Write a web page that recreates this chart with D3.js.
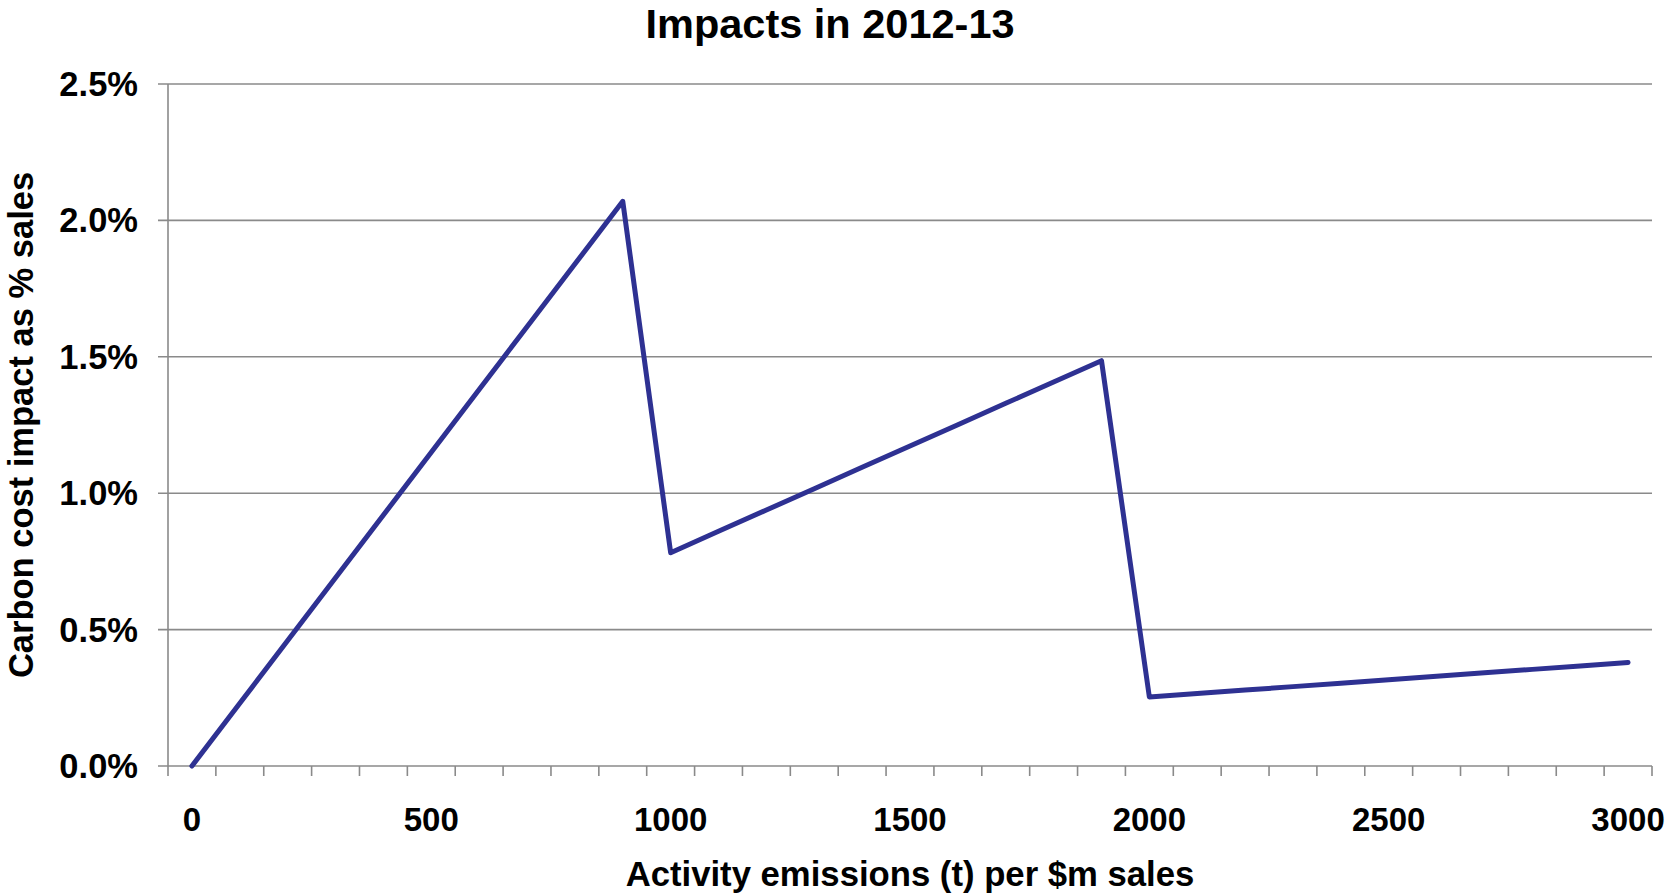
<!DOCTYPE html>
<html>
<head>
<meta charset="utf-8">
<script src="https://cdn.jsdelivr.net/npm/d3@7"></script>
<style>
  html, body { margin: 0; padding: 0; background: #ffffff; }
  svg { display: block; }
  text { font-family: "Liberation Sans", Arial, Helvetica, sans-serif; font-weight: bold; fill: #000; }
</style>
</head>
<body>
<svg id="chart" width="1670" height="895"></svg>
<script>
// Activity emissions (t per $m sales), one category every 100 t
const emissions = [
  0, 100, 200, 300, 400, 500, 600, 700, 800, 900,
  1000, 1100, 1200, 1300, 1400, 1500, 1600, 1700, 1800, 1900,
  2000, 2100, 2200, 2300, 2400, 2500, 2600, 2700, 2800, 2900, 3000
];

// Carbon cost impact as a fraction of sales
const impact = [
  0.0000, 0.0023, 0.0046, 0.0069, 0.0092, 0.0115, 0.0138, 0.0161, 0.0184, 0.0207,
  0.00782, 0.008602, 0.009384, 0.010166, 0.010948, 0.01173, 0.012512, 0.013294, 0.014076, 0.014858,
  0.00253, 0.0026565, 0.002783, 0.0029095, 0.003036, 0.0031625, 0.003289, 0.0034155, 0.003542, 0.0036685, 0.003795
];

// Axis tick values
const yTicks = [0, 0.005, 0.010, 0.015, 0.020, 0.025];
const xLabels = [0, 500, 1000, 1500, 2000, 2500, 3000];

const titleText = "Impacts in 2012-13";
const xTitle = "Activity emissions (t) per $m sales";
const yTitle = "Carbon cost impact as % sales";

const margin = { left: 168, right: 18, top: 84, bottom: 129 };
const W = 1670, H = 895;
const svg = d3.select("#chart");

const x = d3.scaleBand()
  .domain(emissions)
  .range([margin.left, W - margin.right])
  .paddingInner(0).paddingOuter(0);

const y = d3.scaleLinear()
  .domain([0, 0.025])
  .range([H - margin.bottom, margin.top]);

const gridColor = "#8a8a8a";

// Horizontal gridlines (extend slightly left as tick marks)
svg.append("g")
  .selectAll("line")
  .data(yTicks)
  .join("line")
  .attr("x1", margin.left - 10)
  .attr("x2", W - margin.right)
  .attr("y1", d => y(d))
  .attr("y2", d => y(d))
  .attr("stroke", gridColor)
  .attr("stroke-width", 1.6);

// Vertical axis line
svg.append("line")
  .attr("x1", margin.left).attr("x2", margin.left)
  .attr("y1", y(0.025)).attr("y2", y(0))
  .attr("stroke", gridColor).attr("stroke-width", 1.6);

// Category tick marks at band boundaries
const boundaries = emissions.map(d => x(d)).concat([x(emissions[emissions.length - 1]) + x.bandwidth()]);
svg.append("g")
  .selectAll("line")
  .data(boundaries)
  .join("line")
  .attr("x1", d => d).attr("x2", d => d)
  .attr("y1", y(0)).attr("y2", y(0) + 10)
  .attr("stroke", gridColor).attr("stroke-width", 1.6);

// Y tick labels
svg.append("g")
  .selectAll("text")
  .data(yTicks)
  .join("text")
  .attr("x", 138)
  .attr("y", d => y(d) + 12)
  .attr("text-anchor", "end")
  .style("font-size", "34.5px")
  .text(d => d3.format(".1%")(d));

// X tick labels (every fifth category)
svg.append("g")
  .selectAll("text")
  .data(xLabels)
  .join("text")
  .attr("x", d => x(d) + x.bandwidth() / 2)
  .attr("y", 831)
  .attr("text-anchor", "middle")
  .style("font-size", "33px")
  .text(d => d);

// Series line
const line = d3.line()
  .x((d, i) => x(emissions[i]) + x.bandwidth() / 2)
  .y(d => y(d));

svg.append("path")
  .datum(impact)
  .attr("d", line)
  .attr("fill", "none")
  .attr("stroke", "#2e3192")
  .attr("stroke-width", 5)
  .attr("stroke-linejoin", "round")
  .attr("stroke-linecap", "round");

// Chart title
svg.append("text")
  .attr("x", 830)
  .attr("y", 38)
  .attr("text-anchor", "middle")
  .style("font-size", "41.5px")
  .text(titleText);

// X axis title
svg.append("text")
  .attr("x", (margin.left + W - margin.right) / 2)
  .attr("y", 886)
  .attr("text-anchor", "middle")
  .style("font-size", "34.7px")
  .text(xTitle);

// Y axis title
svg.append("text")
  .attr("transform", `translate(33,${(y(0) + y(0.025)) / 2}) rotate(-90)`)
  .attr("text-anchor", "middle")
  .style("font-size", "34.5px")
  .text(yTitle);
</script>
</body>
</html>
